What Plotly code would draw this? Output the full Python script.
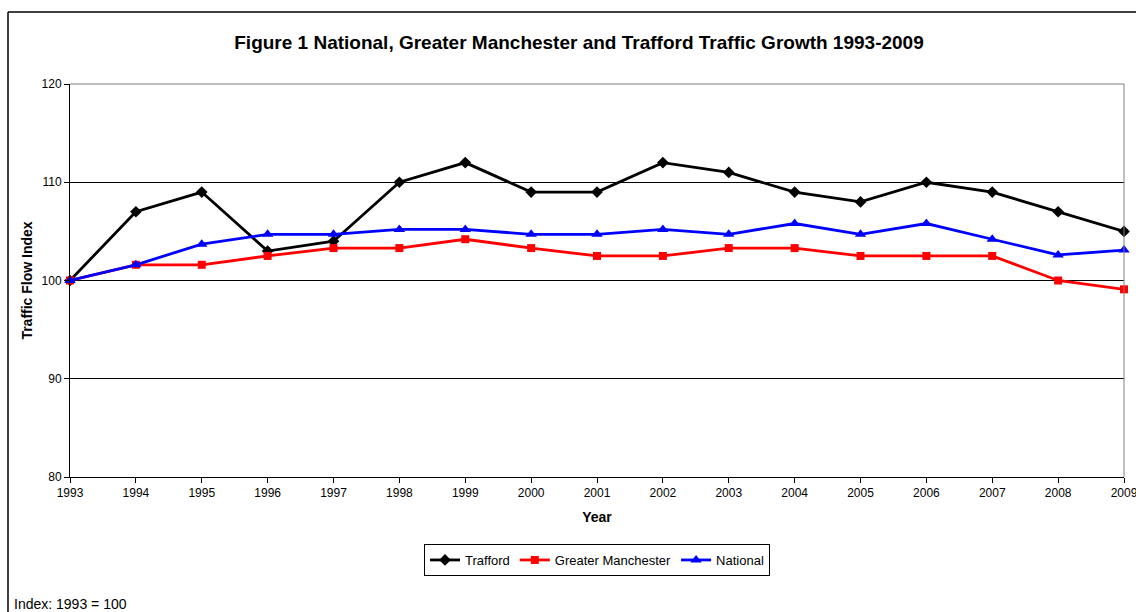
import plotly.graph_objects as go

years = list(range(1993, 2010))
trafford = [100, 107, 109, 103, 104, 110, 112, 109, 109, 112, 111, 109, 108, 110, 109, 107, 105]
greater_manchester = [100, 101.6, 101.6, 102.5, 103.3, 103.3, 104.2, 103.3, 102.5, 102.5, 103.3, 103.3, 102.5, 102.5, 102.5, 100, 99.1]
national = [100, 101.6, 103.7, 104.7, 104.7, 105.2, 105.2, 104.7, 104.7, 105.2, 104.7, 105.8, 104.7, 105.8, 104.2, 102.6, 103.1]

FONT = "Arial, Liberation Sans, sans-serif"

fig = go.Figure()
fig.add_trace(go.Scatter(x=years, y=trafford, name="Trafford", mode="lines+markers",
                         line=dict(color="black", width=2.8),
                         marker=dict(symbol="diamond", size=9, color="black"), cliponaxis=False))
fig.add_trace(go.Scatter(x=years, y=greater_manchester, name="Greater Manchester", mode="lines+markers",
                         line=dict(color="#ff0000", width=2.8),
                         marker=dict(symbol="square", size=8, color="#ff0000"), cliponaxis=False))
fig.add_trace(go.Scatter(x=years, y=national, name="National", mode="lines+markers",
                         line=dict(color="#0000ff", width=2.8),
                         marker=dict(symbol="triangle-up", size=10, color="#0000ff"), cliponaxis=False))

fig.update_layout(
    width=1136, height=612,
    margin=dict(l=70, r=12, t=84, b=135),
    paper_bgcolor="white", plot_bgcolor="white",
    font=dict(family=FONT, size=12, color="black"),
    title=dict(text="<b>Figure 1 National, Greater Manchester and Trafford Traffic Growth 1993-2009</b>",
               x=579 / 1136, xref="container", xanchor="center", y=1 - 42 / 612, yanchor="middle",
               font=dict(size=19, family=FONT)),
    xaxis=dict(range=[1993, 2009], tickmode="array", tickvals=years, ticktext=[str(y) for y in years],
               showgrid=False, zeroline=False, showline=True, linecolor="black", linewidth=1,
               ticks="outside", ticklen=5, tickcolor="black", ticklabeloverflow="allow",
               automargin=False,
               title=dict(text="<b>Year</b>", font=dict(size=14), standoff=12),
               tickfont=dict(size=12)),
    yaxis=dict(range=[80, 120], dtick=10, showgrid=True, gridcolor="black", gridwidth=1,
               zeroline=False, showline=True, linecolor="black", linewidth=1,
               ticks="outside", ticklen=5, tickcolor="black", automargin=False,
               title=dict(text="<b>Traffic Flow Index</b>", font=dict(size=14), standoff=5),
               tickfont=dict(size=12)),
    legend=dict(orientation="h", x=0.5, xanchor="center", y=(477 - 560) / 393, yanchor="middle",
                bordercolor="black", borderwidth=1, font=dict(size=13),
                tracegroupgap=0),
    showlegend=True,
)

# plot area gray border top and right
fig.add_shape(type="line", xref="paper", yref="paper", x0=0, x1=1, y0=1, y1=1,
              line=dict(color="#808080", width=1))
fig.add_shape(type="line", xref="paper", yref="paper", x0=1, x1=1, y0=0, y1=1,
              line=dict(color="#808080", width=1))

# outer chart border (left and top)
left = (8 - 70) / 1054
top = (477 - 12) / 393
fig.add_shape(type="line", xref="paper", yref="paper", x0=left, x1=left, y0=top, y1=-0.4,
              line=dict(color="black", width=1.5))
fig.add_shape(type="line", xref="paper", yref="paper", x0=left, x1=1.05, y0=top, y1=top,
              line=dict(color="black", width=1.5))

fig.add_annotation(text="Index: 1993 = 100", xref="paper", yref="paper",
                   x=(12 - 70) / 1054, y=(477 - 604) / 393, xanchor="left", yanchor="middle",
                   showarrow=False, font=dict(size=14, family=FONT))

fig.write_html("out.html")
